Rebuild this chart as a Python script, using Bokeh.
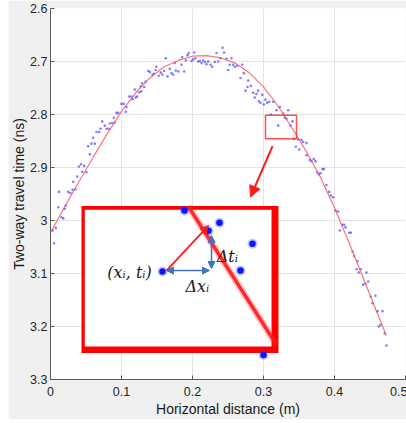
from bokeh.plotting import figure
from bokeh.models import (Range1d, FixedTicker, CustomJSTickFormatter, Arrow,
                          NormalHead, Label, ColumnDataSource)
from bokeh.embed import file_html
from bokeh.resources import INLINE

# ---------------- data ----------------
x_ticks = [0, 0.1, 0.2, 0.3, 0.4, 0.5]
t_ticks = [2.6, 2.7, 2.8, 2.9, 3.0, 3.1, 3.2, 3.3]

dist_m = [0.003, 0.005, 0.0075, 0.011, 0.012, 0.0155, 0.018, 0.020, 0.0215, 0.025,
          0.028, 0.031, 0.032, 0.035, 0.0376, 0.040, 0.043, 0.0446, 0.0475, 0.0507,
          0.053, 0.0554, 0.0577, 0.060, 0.0624, 0.0648, 0.0686, 0.0704, 0.0728, 0.0765,
          0.0789, 0.0821, 0.0835, 0.0869, 0.0892, 0.0906, 0.093, 0.0954, 0.100, 0.1032,
          0.106, 0.107, 0.1108, 0.114, 0.1155, 0.1187, 0.120, 0.122, 0.125, 0.127,
          0.128, 0.129, 0.132, 0.134, 0.1376, 0.140, 0.1437, 0.146, 0.148, 0.149,
          0.1525, 0.1554, 0.1577, 0.160, 0.1624, 0.1648, 0.168, 0.1704, 0.1728, 0.175,
          0.1765, 0.180, 0.1845, 0.1855, 0.1883, 0.1906, 0.193, 0.1948, 0.1986, 0.201,
          0.2024, 0.2042, 0.208, 0.2103, 0.2127, 0.215, 0.2173, 0.2197, 0.222, 0.2254,
          0.2277, 0.2314, 0.2338, 0.2362, 0.2394, 0.2423, 0.2446, 0.2479, 0.2503, 0.2525,
          0.2549, 0.2573, 0.2596, 0.263, 0.2676, 0.270, 0.2723, 0.2746, 0.2775, 0.2785,
          0.2821, 0.2855, 0.2877, 0.290, 0.2925, 0.2934, 0.2958, 0.2982, 0.3004, 0.3028,
          0.3052, 0.308, 0.3103, 0.3137, 0.3183, 0.3207, 0.323, 0.3277, 0.330, 0.3324,
          0.3348, 0.338, 0.3408, 0.3432, 0.3455, 0.3489, 0.3503, 0.3535, 0.3559, 0.3606,
          0.3606, 0.3652, 0.3676, 0.3708, 0.3732, 0.3756, 0.3779, 0.3803, 0.3831, 0.385,
          0.3887, 0.3925, 0.3948, 0.3982, 0.4014, 0.4052, 0.4075, 0.4108, 0.4137, 0.4155,
          0.4207, 0.423, 0.4254, 0.4277, 0.431, 0.4324, 0.4342, 0.437, 0.4404, 0.4437,
          0.445, 0.4475, 0.4511, 0.4535, 0.4577, 0.4606, 0.4624, 0.4648, 0.4676, 0.4708,
          0.4732]
time_ns = [3.019, 3.043, 3.014, 2.975, 2.946, 2.994, 2.996, 2.978, 2.972, 2.946,
           2.948, 2.942, 2.927, 2.941, 2.917, 2.898, 2.894, 2.908, 2.897, 2.909,
           2.860, 2.875, 2.855, 2.844, 2.855, 2.833, 2.833, 2.827, 2.813, 2.821,
           2.827, 2.827, 2.817, 2.816, 2.806, 2.815, 2.797, 2.797, 2.780, 2.780,
           2.795, 2.786, 2.766, 2.766, 2.771, 2.753, 2.768, 2.766, 2.758, 2.747,
           2.756, 2.741, 2.748, 2.738, 2.718, 2.720, 2.725, 2.723, 2.716, 2.710,
           2.727, 2.721, 2.725, 2.718, 2.694, 2.728, 2.714, 2.722, 2.725, 2.703,
           2.717, 2.719, 2.706, 2.692, 2.719, 2.698, 2.688, 2.684, 2.699, 2.696,
           2.683, 2.694, 2.700, 2.699, 2.703, 2.698, 2.701, 2.705, 2.700, 2.706,
           2.710, 2.701, 2.684, 2.700, 2.694, 2.674, 2.683, 2.695, 2.716, 2.706,
           2.694, 2.706, 2.710, 2.708, 2.731, 2.706, 2.722, 2.755, 2.748, 2.736,
           2.746, 2.759, 2.768, 2.761, 2.755, 2.775, 2.778, 2.763, 2.781, 2.772,
           2.778, 2.776, 2.800, 2.776, 2.792, 2.821, 2.786, 2.798, 2.806, 2.808,
           2.792, 2.821, 2.813, 2.846, 2.861, 2.847, 2.866, 2.848, 2.852, 2.854,
           2.877, 2.886, 2.888, 2.884, 2.888, 2.909, 2.913, 2.911, 2.903, 2.903,
           2.933, 2.946, 2.953, 2.956, 2.981, 2.983, 3.019, 3.008, 3.008, 3.013,
           3.023, 3.023, 3.059, 3.067, 3.092, 3.077, 3.098, 3.092, 3.121, 3.119,
           3.098, 3.115, 3.144, 3.156, 3.142, 3.171, 3.200, 3.197, 3.171, 3.213,
           3.236]

fit_x = [0, 0.02, 0.04, 0.06, 0.08, 0.10, 0.12, 0.14, 0.16, 0.18, 0.20, 0.22, 0.24,
         0.26, 0.28, 0.30, 0.32, 0.34, 0.36, 0.38, 0.40, 0.42, 0.44, 0.46, 0.473]
fit_t = [3.023, 2.974, 2.927, 2.881, 2.836, 2.794, 2.759, 2.731, 2.710, 2.698, 2.690,
         2.689, 2.693, 2.703, 2.721, 2.748, 2.783, 2.825, 2.869, 2.918, 2.976, 3.040,
         3.107, 3.174, 3.217]

# zoom window in the data and the magnified inset (annotation, in axis units)
zoom_box = dict(left=0.3028, right=0.3465, top=2.8014, bottom=2.8456)
pointer = dict(x_start=0.3127, y_start=2.8595, x_end=0.2817, y_end=2.9557)
inset_outer = dict(left=0.0437, right=0.3211, top=2.9726, bottom=3.250)
inset_inner = dict(left=0.0483, right=0.3113, top=2.9795, bottom=3.2375)
inset_fit_x = [0.194, 0.3183]
inset_fit_t = [2.973, 3.2345]
inset_dot_x = [0.1577, 0.2225, 0.238, 0.2845, 0.2676, 0.1887, 0.300]
inset_dot_t = [3.0963, 3.0194, 3.0044, 3.0438, 3.0944, 2.981, 3.2538]
disp_arrow = dict(x_start=0.1634, y_start=3.0944, x_end=0.2225, y_end=3.0095)
dx_arrow = dict(x_start=0.1634, y_start=3.0944, x_end=0.2239, y_end=3.0944)
dt_arrow = dict(x_start=0.2268, y_start=3.0284, x_end=0.2268, y_end=3.0906)
labels = [("(xᵢ, tᵢ)", 0.1113, 3.0982), ("Δtᵢ", 0.2490, 3.0683), ("Δxᵢ", 0.2068, 3.1244)]

# ---------------- figure ----------------
p = figure(frame_width=355, frame_height=371, x_range=Range1d(0, 0.5),
           y_range=Range1d(3.3, 2.6),
           output_backend="svg", toolbar_location=None,
           min_border_left=41, min_border_right=2, min_border_top=8, min_border_bottom=39,
           border_fill_color="#f0f0f0", background_fill_color="white",
           outline_line_color=None)
p.styles = {"margin-left": "8px"}

p.xaxis.axis_label = "Horizontal distance (m)"
p.yaxis.axis_label = "Two-way travel time (ns)"
p.xaxis.ticker = FixedTicker(ticks=x_ticks)
p.yaxis.ticker = FixedTicker(ticks=t_ticks)
for ax in (p.xaxis[0], p.yaxis[0]):
    ax.formatter = CustomJSTickFormatter(code="return String(Math.round(tick*10)/10);")
    ax.major_tick_in = 4
    ax.major_tick_out = 0
    ax.minor_tick_line_color = None
    ax.axis_line_color = "#5a5a5a"
    ax.major_tick_line_color = "#5a5a5a"
    ax.major_label_text_font = "Liberation Sans"
    ax.major_label_text_font_size = "12.5px"
    ax.major_label_text_color = "#262626"
    ax.axis_label_text_font = "Liberation Sans"
    ax.axis_label_text_font_size = "14px"
    ax.axis_label_text_font_style = "normal"
    ax.axis_label_text_color = "#1a1a1a"
p.xaxis.major_label_standoff = 7
p.xaxis.axis_label_standoff = 2
p.yaxis.major_label_standoff = 3
p.yaxis.axis_label_standoff = 0
p.grid.grid_line_color = "#e4e4e4"

src = ColumnDataSource(dict(x=dist_m, t=time_ns))
p.scatter("x", "t", source=src, size=2.6, marker="circle", fill_color="#3a3aff",
          line_color=None, fill_alpha=0.65)
p.line(fit_x, fit_t, line_color="#ff5a5a", line_width=1.2, line_alpha=0.85)

p.quad(left=[zoom_box["left"]], right=[zoom_box["right"]], top=[zoom_box["top"]],
       bottom=[zoom_box["bottom"]], fill_color=None, line_color="#ff3030", line_width=1.5,
       line_alpha=0.85)
p.add_layout(Arrow(end=NormalHead(size=11, fill_color="#ff1a1a", line_color="#ff1a1a"),
                   line_color="#ff1a1a", line_width=2, **pointer))

# inset
p.quad(left=[inset_outer["left"]], right=[inset_outer["right"]], top=[inset_outer["top"]],
       bottom=[inset_outer["bottom"]], fill_color="#ff0000", line_color=None)
p.quad(left=[inset_inner["left"]], right=[inset_inner["right"]], top=[inset_inner["top"]],
       bottom=[inset_inner["bottom"]], fill_color="white", line_color=None)
p.line(inset_fit_x, inset_fit_t, line_color="#ff2020", line_width=7, line_alpha=0.25)
p.line(inset_fit_x, inset_fit_t, line_color="#ff1a1a", line_width=3.5, line_alpha=0.9)
p.scatter(inset_dot_x, inset_dot_t, size=10, fill_color="#3040ff", fill_alpha=0.3,
          line_color=None)
p.scatter(inset_dot_x, inset_dot_t, size=6.5, fill_color="#0a14ff", line_color=None)

p.add_layout(Arrow(end=NormalHead(size=8, fill_color="#ff1a1a", line_color="#ff1a1a"),
                   line_color="#ff1a1a", line_width=1.8, **disp_arrow))
for arr in (dx_arrow, dt_arrow):
    p.add_layout(Arrow(start=NormalHead(size=7, fill_color="#4472c4", line_color="#4472c4"),
                       end=NormalHead(size=7, fill_color="#4472c4", line_color="#4472c4"),
                       line_color="#4472c4", line_width=1.6, **arr))
for txt, lx, ly in labels:
    p.add_layout(Label(x=lx, y=ly, text=txt, text_align="center", text_baseline="middle",
                       text_font="DejaVu Serif", text_font_style="italic",
                       text_font_size="16px", text_color="#1a1a1a"))

open("out.html", "w").write(file_html(p, INLINE))
